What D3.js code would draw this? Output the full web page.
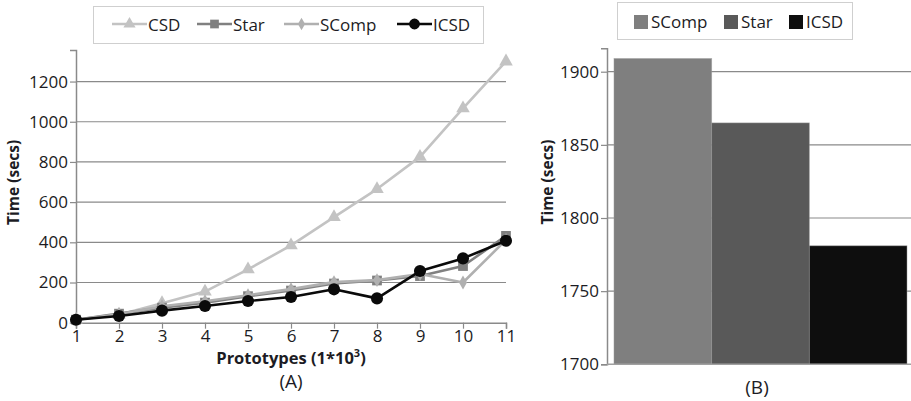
<!DOCTYPE html>
<html><head><meta charset="utf-8">
<script src="https://cdn.jsdelivr.net/npm/d3@7"></script>
<style>
html,body{margin:0;padding:0;background:#fff;}
svg{display:block;font-family:"Open Sans",sans-serif;}
</style></head><body>
<svg id="c" width="911" height="401"></svg>
<script>
// ---- Data ----
const prototypes = [1,2,3,4,5,6,7,8,9,10,11];
const csd   = [15, 40, 97, 155, 265, 385, 525, 665, 825, 1067, 1300];
const star  = [15, 45, 75, 100, 132, 160, 195, 210, 232, 282, 432];
const scomp = [15, 42, 82, 107, 137, 167, 202, 212, 242, 200, 412];
const icsd  = [15, 33, 60, 83, 108, 128, 166, 121, 257, 320, 408];
const yTicksA = [0,200,400,600,800,1000,1200];

const barSeries = ["SComp","Star","ICSD"];
const barValues = [1909, 1865, 1781];
const yTicksB = [1700,1750,1800,1850,1900];

const svg = d3.select("#c");
const textCol = "#1c1c24";
const gridCol = "#8a8a8a";
const tickFont = "17px";

// ---- Chart A ----
const xA = d3.scaleLinear().domain([1,11]).range([76,506]);
const yA = d3.scaleLinear().domain([0,1357]).range([322.7,50]);

const gA = svg.append("g");
gA.selectAll("line.grid").data(yTicksA.filter(d=>d>0)).join("line")
  .attr("x1", xA(1)).attr("x2", xA(11))
  .attr("y1", d=>yA(d)).attr("y2", d=>yA(d))
  .attr("stroke", gridCol).attr("stroke-width",1.2);

const axA_y = gA.append("g").attr("transform",`translate(${xA(1)},0)`)
  .call(d3.axisLeft(yA).tickValues(yTicksA).tickSize(6).tickPadding(2).tickFormat(d3.format("d")));
const axA_x = gA.append("g").attr("transform",`translate(0,${yA(0)})`)
  .call(d3.axisBottom(xA).tickValues(prototypes).tickSize(6).tickPadding(1).tickFormat(d3.format("d")));
[axA_y, axA_x].forEach(ax=>{
  ax.select(".domain").attr("stroke",gridCol).attr("stroke-width",1.5);
  ax.selectAll(".tick line").attr("stroke",gridCol).attr("stroke-width",1.2);
  ax.selectAll("text").attr("fill",textCol).style("font-size",tickFont).style("font-family","'Open Sans',sans-serif");
});
const seriesA = [
  {name:"CSD",   vals:csd,   color:"#c3c3c3", marker:"triangle"},
  {name:"Star",  vals:star,  color:"#808080", marker:"square"},
  {name:"SComp", vals:scomp, color:"#b0b0b0", marker:"diamond"},
  {name:"ICSD",  vals:icsd,  color:"#0a0a0a", marker:"circle"}
];
const symType = {triangle:d3.symbolTriangle, square:d3.symbolSquare, diamond:d3.symbolDiamond, circle:d3.symbolCircle};
const symSize = {triangle:80, square:95, diamond:55, circle:115};
const line = d3.line().x((d,i)=>xA(prototypes[i])).y(d=>yA(d));
seriesA.forEach(s=>{
  const g = gA.append("g");
  g.append("path").attr("d", line(s.vals)).attr("fill","none")
    .attr("stroke", s.color).attr("stroke-width", 2.6).attr("stroke-linejoin","round");
  g.selectAll("path.m").data(s.vals).join("path").attr("class","m")
    .attr("transform",(d,i)=>`translate(${xA(prototypes[i])},${yA(d)})`)
    .attr("d", d3.symbol().type(symType[s.marker]).size(symSize[s.marker]))
    .attr("fill", s.color);
});
gA.append("text").attr("transform",`translate(19,${(yA(0)+50)/2-4}) rotate(-90)`)
  .attr("text-anchor","middle").attr("font-weight","bold").attr("font-size",15.5).attr("fill",textCol)
  .text("Time (secs)");
const xt = gA.append("text").attr("x",(xA(1)+xA(11))/2).attr("y",364)
  .attr("text-anchor","middle").attr("font-weight","bold").attr("font-size",16.5).attr("fill",textCol);
xt.append("tspan").text("Prototypes (1*10");
xt.append("tspan").attr("dy",-7).attr("font-size",11).text("3");
xt.append("tspan").attr("dy",7).text(")");
gA.append("text").attr("x",(xA(1)+xA(11))/2).attr("y",388).attr("text-anchor","middle")
  .attr("font-size",19).attr("fill",textCol).text("(A)");

// legend A
const legA = svg.append("g");
legA.append("rect").attr("x",93.5).attr("y",6.5).attr("width",390).attr("height",37)
  .attr("fill","#fff").attr("stroke","#cfcfcf").attr("stroke-width",1);
const legAx = [112,197,284,397];
seriesA.forEach((s,i)=>{
  const g = legA.append("g").attr("transform",`translate(${legAx[i]},24)`);
  g.append("line").attr("x1",0).attr("x2",35).attr("stroke",s.color).attr("stroke-width",2.6);
  g.append("path").attr("transform","translate(17.5,0)")
    .attr("d", d3.symbol().type(symType[s.marker]).size(symSize[s.marker]*0.8)).attr("fill",s.color);
  g.append("text").attr("x",36).attr("y",6.5).attr("font-size",17).attr("fill",textCol).text(s.name);
});

// ---- Chart B ----
const yB = d3.scaleLinear().domain([1700,1916]).range([364.3,48.3]);
const xB = d3.scaleBand().domain(barSeries).range([614,907]).padding(0);
const colB = d3.scaleOrdinal().domain(barSeries).range(["#7f7f7f","#595959","#0e0e0e"]);
const gB = svg.append("g");
gB.selectAll("line.grid").data(yTicksB.filter(d=>d>1700)).join("line")
  .attr("x1",607).attr("x2",911).attr("y1",d=>yB(d)).attr("y2",d=>yB(d))
  .attr("stroke",gridCol).attr("stroke-width",1.2);
gB.selectAll("rect.bar").data(barSeries).join("rect").attr("class","bar")
  .attr("x",d=>xB(d)).attr("width",xB.bandwidth())
  .attr("y",(d,i)=>yB(barValues[i])).attr("height",(d,i)=>yB(1700)-yB(barValues[i]))
  .attr("fill",d=>colB(d)).attr("stroke","#9a9a9a").attr("stroke-width",0.8).attr("stroke-opacity",0.6);
const axB_y = gB.append("g").attr("transform","translate(607,0)")
  .call(d3.axisLeft(yB).tickValues(yTicksB).tickSize(6).tickPadding(2).tickFormat(d3.format("d")));
axB_y.select(".domain").attr("stroke",gridCol).attr("stroke-width",1.5);
axB_y.selectAll(".tick line").attr("stroke",gridCol).attr("stroke-width",1.2);
axB_y.selectAll("text").attr("fill",textCol).style("font-size",tickFont).style("font-family","'Open Sans',sans-serif");
gB.append("line").attr("x1",607).attr("x2",911).attr("y1",yB(1700)).attr("y2",yB(1700))
  .attr("stroke","#a0a0a0").attr("stroke-width",1.5);
gB.append("text").attr("transform",`translate(553,182) rotate(-90)`)
  .attr("text-anchor","middle").attr("font-weight","bold").attr("font-size",15.5).attr("fill",textCol)
  .text("Time (secs)");
gB.append("text").attr("x",757).attr("y",394).attr("text-anchor","middle")
  .attr("font-size",19).attr("fill",textCol).text("(B)");
// legend B
const legB = svg.append("g");
legB.append("rect").attr("x",617.5).attr("y",2.5).attr("width",235).attr("height",37)
  .attr("fill","#fff").attr("stroke","#cfcfcf").attr("stroke-width",1);
const legBx = [634,724,789];
barSeries.forEach((s,i)=>{
  const g = legB.append("g").attr("transform",`translate(${legBx[i]},15)`);
  g.append("rect").attr("width",14).attr("height",14).attr("fill",colB(s));
  g.append("text").attr("x",17).attr("y",13).attr("font-size",17).attr("fill",textCol).text(s);
});
</script>
</body></html>
